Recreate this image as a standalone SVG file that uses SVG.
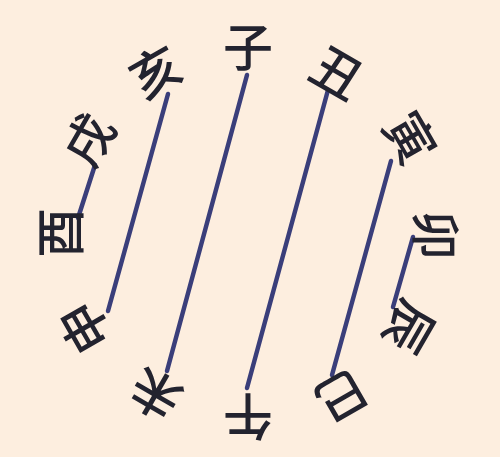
<svg xmlns="http://www.w3.org/2000/svg" width="500" height="457" viewBox="0 0 500 457">
  <style>
    .ch { font-family: "Noto Sans CJK SC", "Noto Sans CJK TC", sans-serif; font-size: 50px; font-weight: 500; fill: #23232f; text-anchor: middle; dominant-baseline: central; }
    .ln { stroke: #3a3e7a; stroke-width: 4.5; stroke-linecap: round; fill: none; }
  </style>
  <rect width="500" height="457" fill="#fdeedf"/>
  <g id="connectors">
    <line class="ln" x1="247" y1="75" x2="167" y2="371"/>
    <line class="ln" x1="328" y1="90" x2="247" y2="388"/>
    <line class="ln" x1="391" y1="161" x2="332" y2="375"/>
    <line class="ln" x1="413" y1="237" x2="393" y2="307"/>
    <line class="ln" x1="168" y1="94" x2="108" y2="311"/>
    <line class="ln" x1="95" y1="165" x2="78" y2="218"/>
  </g>
  <g id="zi" transform="translate(248,44) rotate(0)"><text class="ch">子</text></g>
  <g id="chou" transform="translate(339,70) rotate(30)"><text class="ch">丑</text></g>
  <g id="yin" transform="translate(413,136) rotate(60)"><text class="ch">寅</text></g>
  <g id="mao" transform="translate(439,235) rotate(90)"><text class="ch">卯</text></g>
  <g id="chen" transform="translate(412,329) rotate(120)"><text class="ch">辰</text></g>
  <g id="si" transform="translate(343,399) rotate(150)"><text class="ch">巳</text></g>
  <g id="wu" transform="translate(248,420) rotate(180)"><text class="ch">午</text></g>
  <g id="wei" transform="translate(154,397) rotate(210)"><text class="ch">未</text></g>
  <g id="shen" transform="translate(82,329) rotate(240)"><text class="ch">申</text></g>
  <g id="you" transform="translate(57,233) rotate(270)"><text class="ch">酉</text></g>
  <g id="xu" transform="translate(86,138) rotate(300)"><text class="ch">戌</text></g>
  <g id="hai" transform="translate(154,69) rotate(330)"><text class="ch">亥</text></g>
</svg>
